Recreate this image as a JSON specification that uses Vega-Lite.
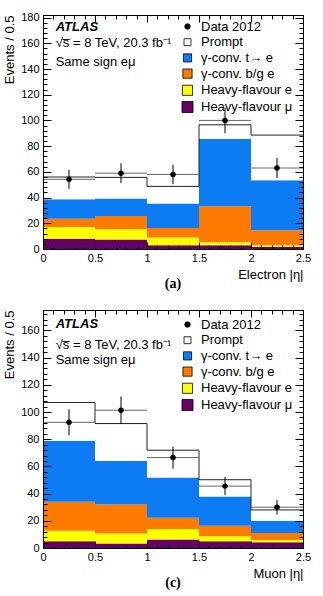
{
  "$schema": "https://vega.github.io/schema/vega-lite/v6.json",
  "background": "white",
  "padding": {"left": 3, "top": 11, "right": 5, "bottom": 0},
  "spacing": 18,
  "config": {"view": {"stroke": null}, "font": "Liberation Sans"},
  "datasets": {
    "electron": [
      {"lo": 0.0, "hi": 0.5, "component": "Heavy-flavour μ", "events": 8.0},
      {"lo": 0.0, "hi": 0.5, "component": "Heavy-flavour e", "events": 9.1},
      {"lo": 0.0, "hi": 0.5, "component": "γ-conv. b/g e", "events": 6.5},
      {"lo": 0.0, "hi": 0.5, "component": "γ-conv. t→ e", "events": 15.0},
      {"lo": 0.0, "hi": 0.5, "component": "Prompt", "events": 17.4},
      {"lo": 0.5, "hi": 1.0, "component": "Heavy-flavour μ", "events": 7.3},
      {"lo": 0.5, "hi": 1.0, "component": "Heavy-flavour e", "events": 8.0},
      {"lo": 0.5, "hi": 1.0, "component": "γ-conv. b/g e", "events": 10.3},
      {"lo": 0.5, "hi": 1.0, "component": "γ-conv. t→ e", "events": 13.6},
      {"lo": 0.5, "hi": 1.0, "component": "Prompt", "events": 16.5},
      {"lo": 1.0, "hi": 1.5, "component": "Heavy-flavour μ", "events": 2.9},
      {"lo": 1.0, "hi": 1.5, "component": "Heavy-flavour e", "events": 6.0},
      {"lo": 1.0, "hi": 1.5, "component": "γ-conv. b/g e", "events": 7.4},
      {"lo": 1.0, "hi": 1.5, "component": "γ-conv. t→ e", "events": 19.0},
      {"lo": 1.0, "hi": 1.5, "component": "Prompt", "events": 13.4},
      {"lo": 1.5, "hi": 2.0, "component": "Heavy-flavour μ", "events": 2.9},
      {"lo": 1.5, "hi": 2.0, "component": "Heavy-flavour e", "events": 2.3},
      {"lo": 1.5, "hi": 2.0, "component": "γ-conv. b/g e", "events": 28.0},
      {"lo": 1.5, "hi": 2.0, "component": "γ-conv. t→ e", "events": 52.6},
      {"lo": 1.5, "hi": 2.0, "component": "Prompt", "events": 10.8},
      {"lo": 2.0, "hi": 2.5, "component": "Heavy-flavour μ", "events": 1.6},
      {"lo": 2.0, "hi": 2.5, "component": "Heavy-flavour e", "events": 1.3},
      {"lo": 2.0, "hi": 2.5, "component": "γ-conv. b/g e", "events": 11.6},
      {"lo": 2.0, "hi": 2.5, "component": "γ-conv. t→ e", "events": 38.9},
      {"lo": 2.0, "hi": 2.5, "component": "Prompt", "events": 35.2}
    ],
    "electron_data": [
      {"lo": 0.0, "hi": 0.5, "eta": 0.25, "component": "Data 2012", "events": 54.2, "err": 7.4},
      {"lo": 0.5, "hi": 1.0, "eta": 0.75, "component": "Data 2012", "events": 59.0, "err": 7.7},
      {"lo": 1.0, "hi": 1.5, "eta": 1.25, "component": "Data 2012", "events": 58.0, "err": 7.6},
      {"lo": 1.5, "hi": 2.0, "eta": 1.75, "component": "Data 2012", "events": 100.0, "err": 10.0},
      {"lo": 2.0, "hi": 2.5, "eta": 2.25, "component": "Data 2012", "events": 63.0, "err": 7.9}
    ],
    "muon": [
      {"lo": 0.0, "hi": 0.5, "component": "Heavy-flavour μ", "events": 4.9},
      {"lo": 0.0, "hi": 0.5, "component": "Heavy-flavour e", "events": 7.7},
      {"lo": 0.0, "hi": 0.5, "component": "γ-conv. b/g e", "events": 21.4},
      {"lo": 0.0, "hi": 0.5, "component": "γ-conv. t→ e", "events": 44.8},
      {"lo": 0.0, "hi": 0.5, "component": "Prompt", "events": 28.2},
      {"lo": 0.5, "hi": 1.0, "component": "Heavy-flavour μ", "events": 3.4},
      {"lo": 0.5, "hi": 1.0, "component": "Heavy-flavour e", "events": 7.2},
      {"lo": 0.5, "hi": 1.0, "component": "γ-conv. b/g e", "events": 21.4},
      {"lo": 0.5, "hi": 1.0, "component": "γ-conv. t→ e", "events": 32.1},
      {"lo": 0.5, "hi": 1.0, "component": "Prompt", "events": 27.4},
      {"lo": 1.0, "hi": 1.5, "component": "Heavy-flavour μ", "events": 6.2},
      {"lo": 1.0, "hi": 1.5, "component": "Heavy-flavour e", "events": 7.8},
      {"lo": 1.0, "hi": 1.5, "component": "γ-conv. b/g e", "events": 8.2},
      {"lo": 1.0, "hi": 1.5, "component": "γ-conv. t→ e", "events": 29.7},
      {"lo": 1.0, "hi": 1.5, "component": "Prompt", "events": 20.0},
      {"lo": 1.5, "hi": 2.0, "component": "Heavy-flavour μ", "events": 4.9},
      {"lo": 1.5, "hi": 2.0, "component": "Heavy-flavour e", "events": 3.7},
      {"lo": 1.5, "hi": 2.0, "component": "γ-conv. b/g e", "events": 7.8},
      {"lo": 1.5, "hi": 2.0, "component": "γ-conv. t→ e", "events": 21.5},
      {"lo": 1.5, "hi": 2.0, "component": "Prompt", "events": 12.3},
      {"lo": 2.0, "hi": 2.5, "component": "Heavy-flavour μ", "events": 4.2},
      {"lo": 2.0, "hi": 2.5, "component": "Heavy-flavour e", "events": 1.7},
      {"lo": 2.0, "hi": 2.5, "component": "γ-conv. b/g e", "events": 5.1},
      {"lo": 2.0, "hi": 2.5, "component": "γ-conv. t→ e", "events": 9.1},
      {"lo": 2.0, "hi": 2.5, "component": "Prompt", "events": 7.9}
    ],
    "muon_data": [
      {"lo": 0.0, "hi": 0.5, "eta": 0.25, "component": "Data 2012", "events": 92.4, "err": 9.6},
      {"lo": 0.5, "hi": 1.0, "eta": 0.75, "component": "Data 2012", "events": 101.3, "err": 10.1},
      {"lo": 1.0, "hi": 1.5, "eta": 1.25, "component": "Data 2012", "events": 66.5, "err": 8.2},
      {"lo": 1.5, "hi": 2.0, "eta": 1.75, "component": "Data 2012", "events": 45.5, "err": 6.7},
      {"lo": 2.0, "hi": 2.5, "eta": 2.25, "component": "Data 2012", "events": 30.0, "err": 5.5}
    ]
  },
  "resolve": {
    "scale": {"x": "independent", "y": "independent", "color": "independent", "shape": "independent", "size": "independent"},
    "legend": {"color": "independent", "shape": "independent", "size": "independent"}
  },
  "vconcat": [
    {
      "width": 260,
      "height": 234,
      "title": {"text": "(a)", "orient": "bottom", "font": "Liberation Serif", "fontSize": 14, "fontWeight": "bold", "color": "black", "offset": -4},
      "resolve": {"axis": {"x": "independent", "y": "independent"}},
      "layer": [
        {
          "data": {"name": "electron"},
          "transform": [
            {"calculate": "indexof(['Heavy-flavour μ', 'Heavy-flavour e', 'γ-conv. b/g e', 'γ-conv. t→ e', 'Prompt'], datum.component)", "as": "stack_order"},
            {"stack": "events", "groupby": ["lo"], "sort": [{"field": "stack_order", "order": "ascending"}], "as": ["y0", "y1"]}
          ],
          "mark": {"type": "bar", "strokeWidth": 0},
          "encoding": {
            "x": {"field": "lo", "type": "quantitative", "scale": {"domain": [0, 2.5], "nice": false, "zero": false},
              "axis": {"orient": "bottom", "values": [0, 0.5, 1, 1.5, 2, 2.5], "format": "~g", "labelFlush": false, "title": "Electron |η|", "titleAnchor": "end", "titleFont": "Liberation Sans", "titleFontSize": 13, "titleFontWeight": "normal", "titleColor": "black", "titlePadding": 5, "labelFont": "Liberation Sans", "labelFontSize": 11, "labelColor": "black", "labelPadding": 10, "tickSize": -7, "tickColor": "black", "domain": true, "domainColor": "black", "grid": false, "zindex": 1}},
            "x2": {"field": "hi"},
            "y": {"field": "y0", "type": "quantitative", "scale": {"domain": [0, 182], "nice": false},
              "axis": {"orient": "left", "values": [0, 20, 40, 60, 80, 100, 120, 140, 160, 180], "title": "Events / 0.5", "titleAnchor": "end", "titleFont": "Liberation Sans", "titleFontSize": 13, "titleFontWeight": "normal", "titleColor": "black", "titlePadding": 4, "labelFont": "Liberation Sans", "labelFontSize": 11, "labelColor": "black", "labelPadding": 12, "tickSize": -8, "tickColor": "black", "domain": true, "domainColor": "black", "grid": false, "zindex": 1}},
            "y2": {"field": "y1"},
            "color": {"field": "component", "type": "nominal",
              "scale": {"domain": ["Data 2012", "Prompt", "γ-conv. t→ e", "γ-conv. b/g e", "Heavy-flavour e", "Heavy-flavour μ"], "range": ["#000000", "#ffffff", "#0d7cf2", "#ff7a00", "#ffff00", "#650066"]},
              "legend": {"orient": "none", "legendX": 138, "legendY": 5, "title": null, "padding": 0, "labelFont": "Liberation Sans", "labelFontSize": 13, "labelColor": "black", "labelOffset": 7, "rowPadding": 1.7, "symbolStrokeColor": "black", "symbolStrokeWidth": 0.8}}
          }
        },
        {
          "data": {"name": "electron"},
          "transform": [
            {"joinaggregate": [{"op": "sum", "field": "events", "as": "total"}], "groupby": ["lo"]},
            {"filter": "datum.component === 'Prompt'"}
          ],
          "mark": {"type": "rule", "color": "#222222", "strokeWidth": 1},
          "encoding": {
            "x": {"field": "lo", "type": "quantitative", "axis": {"orient": "top", "values": [0, 0.5, 1, 1.5, 2, 2.5], "labels": false, "title": null, "tickSize": -7, "tickColor": "black", "domain": true, "domainColor": "black", "grid": false, "zindex": 1}},
            "x2": {"field": "hi"},
            "y": {"field": "total", "type": "quantitative", "axis": {"orient": "right", "values": [0, 20, 40, 60, 80, 100, 120, 140, 160, 180], "labels": false, "title": null, "tickSize": -8, "tickColor": "black", "domain": true, "domainColor": "black", "grid": false, "zindex": 1}}
          }
        },
        {
          "data": {"name": "electron"},
          "transform": [
            {"joinaggregate": [{"op": "sum", "field": "events", "as": "total"}], "groupby": ["lo"]},
            {"filter": "datum.component === 'Prompt'"},
            {"window": [{"op": "lead", "field": "total", "as": "next_total"}], "sort": [{"field": "lo", "order": "ascending"}]},
            {"filter": "isValid(datum.next_total)"}
          ],
          "mark": {"type": "rule", "color": "#222222", "strokeWidth": 1},
          "encoding": {
            "x": {"field": "hi", "type": "quantitative", "axis": {"orient": "bottom", "values": [0, 0.1, 0.2, 0.3, 0.4, 0.5, 0.6, 0.7, 0.8, 0.9, 1, 1.1, 1.2, 1.3, 1.4, 1.5, 1.6, 1.7, 1.8, 1.9, 2, 2.1, 2.2, 2.3, 2.4, 2.5], "labels": false, "title": null, "tickSize": -4, "tickColor": "black", "domain": false, "grid": false, "zindex": 1}},
            "y": {"field": "total", "type": "quantitative", "axis": {"orient": "left", "values": [0, 4, 8, 12, 16, 20, 24, 28, 32, 36, 40, 44, 48, 52, 56, 60, 64, 68, 72, 76, 80, 84, 88, 92, 96, 100, 104, 108, 112, 116, 120, 124, 128, 132, 136, 140, 144, 148, 152, 156, 160, 164, 168, 172, 176, 180], "labels": false, "title": null, "tickSize": -4, "tickColor": "black", "domain": false, "grid": false, "zindex": 1}},
            "y2": {"field": "next_total"}
          }
        },
        {
          "data": {"name": "electron_data"},
          "mark": {"type": "rule", "color": "#666666", "strokeWidth": 1},
          "encoding": {
            "x": {"field": "lo", "type": "quantitative", "axis": {"orient": "top", "values": [0, 0.1, 0.2, 0.3, 0.4, 0.5, 0.6, 0.7, 0.8, 0.9, 1, 1.1, 1.2, 1.3, 1.4, 1.5, 1.6, 1.7, 1.8, 1.9, 2, 2.1, 2.2, 2.3, 2.4, 2.5], "labels": false, "title": null, "tickSize": -4, "tickColor": "black", "domain": false, "grid": false, "zindex": 1}},
            "x2": {"field": "hi"},
            "y": {"field": "events", "type": "quantitative", "axis": {"orient": "right", "values": [0, 4, 8, 12, 16, 20, 24, 28, 32, 36, 40, 44, 48, 52, 56, 60, 64, 68, 72, 76, 80, 84, 88, 92, 96, 100, 104, 108, 112, 116, 120, 124, 128, 132, 136, 140, 144, 148, 152, 156, 160, 164, 168, 172, 176, 180], "labels": false, "title": null, "tickSize": -4, "tickColor": "black", "domain": false, "grid": false, "zindex": 1}}
          }
        },
        {
          "data": {"name": "electron_data"},
          "mark": {"type": "errorbar", "color": "black", "thickness": 1},
          "encoding": {
            "x": {"field": "eta", "type": "quantitative", "axis": null},
            "y": {"field": "events", "type": "quantitative", "axis": null},
            "yError": {"field": "err"}
          }
        },
        {
          "data": {"name": "electron_data"},
          "mark": {"type": "point", "filled": true, "opacity": 1},
          "encoding": {
            "x": {"field": "eta", "type": "quantitative", "axis": null},
            "y": {"field": "events", "type": "quantitative", "axis": null},
            "color": {"field": "component", "type": "nominal",
              "legend": {"orient": "none", "legendX": 138, "legendY": 5, "title": null, "padding": 0, "labelFont": "Liberation Sans", "labelFontSize": 13, "labelColor": "black", "labelOffset": 7, "rowPadding": 1.7, "symbolStrokeColor": "black", "symbolStrokeWidth": 0.8}},
            "shape": {"field": "component", "type": "nominal",
              "scale": {"domain": ["Data 2012", "Prompt", "γ-conv. t→ e", "γ-conv. b/g e", "Heavy-flavour e", "Heavy-flavour μ"], "range": ["circle", "square", "square", "square", "square", "square"]},
              "legend": {"orient": "none", "legendX": 138, "legendY": 5, "title": null, "padding": 0, "labelFont": "Liberation Sans", "labelFontSize": 13, "labelColor": "black", "labelOffset": 7, "rowPadding": 1.7, "symbolStrokeColor": "black", "symbolStrokeWidth": 0.8}},
            "size": {"field": "component", "type": "nominal",
              "scale": {"domain": ["Data 2012", "Prompt", "γ-conv. t→ e", "γ-conv. b/g e", "Heavy-flavour e", "Heavy-flavour μ"], "range": [30, 121, 121, 121, 121, 121]},
              "legend": {"orient": "none", "legendX": 138, "legendY": 5, "title": null, "padding": 0, "labelFont": "Liberation Sans", "labelFontSize": 13, "labelColor": "black", "labelOffset": 7, "rowPadding": 1.7, "symbolStrokeColor": "black", "symbolStrokeWidth": 0.8}}
          }
        },
        {
          "data": {"values": [{"label": "ATLAS"}]},
          "mark": {"type": "text", "align": "left", "baseline": "middle", "font": "Liberation Sans", "fontSize": 13, "fontStyle": "italic", "fontWeight": "bold", "color": "black"},
          "encoding": {
            "x": {"datum": 0.122, "type": "quantitative", "axis": null},
            "y": {"datum": 173, "type": "quantitative", "axis": null},
            "text": {"field": "label"}
          }
        },
        {
          "data": {"values": [{"label": "√s̅ = 8 TeV, 20.3 fb⁻¹"}]},
          "mark": {"type": "text", "align": "left", "baseline": "middle", "font": "Liberation Sans", "fontSize": 13, "color": "black"},
          "encoding": {
            "x": {"datum": 0.122, "type": "quantitative", "axis": null},
            "y": {"datum": 160, "type": "quantitative", "axis": null},
            "text": {"field": "label"}
          }
        },
        {
          "data": {"values": [{"label": "Same sign eμ"}]},
          "mark": {"type": "text", "align": "left", "baseline": "middle", "font": "Liberation Sans", "fontSize": 13, "color": "black"},
          "encoding": {
            "x": {"datum": 0.122, "type": "quantitative", "axis": null},
            "y": {"datum": 145.8, "type": "quantitative", "axis": null},
            "text": {"field": "label"}
          }
        }
      ]
    },
    {
      "width": 260,
      "height": 238,
      "title": {"text": "(c)", "orient": "bottom", "font": "Liberation Serif", "fontSize": 14, "fontWeight": "bold", "color": "black", "offset": -4},
      "resolve": {"axis": {"x": "independent", "y": "independent"}},
      "layer": [
        {
          "data": {"name": "muon"},
          "transform": [
            {"calculate": "indexof(['Heavy-flavour μ', 'Heavy-flavour e', 'γ-conv. b/g e', 'γ-conv. t→ e', 'Prompt'], datum.component)", "as": "stack_order"},
            {"stack": "events", "groupby": ["lo"], "sort": [{"field": "stack_order", "order": "ascending"}], "as": ["y0", "y1"]}
          ],
          "mark": {"type": "bar", "strokeWidth": 0},
          "encoding": {
            "x": {"field": "lo", "type": "quantitative", "scale": {"domain": [0, 2.5], "nice": false, "zero": false},
              "axis": {"orient": "bottom", "values": [0, 0.5, 1, 1.5, 2, 2.5], "format": "~g", "labelFlush": false, "title": "Muon |η|", "titleAnchor": "end", "titleFont": "Liberation Sans", "titleFontSize": 13, "titleFontWeight": "normal", "titleColor": "black", "titlePadding": 5, "labelFont": "Liberation Sans", "labelFontSize": 11, "labelColor": "black", "labelPadding": 10, "tickSize": -7, "tickColor": "black", "domain": true, "domainColor": "black", "grid": false, "zindex": 1}},
            "x2": {"field": "hi"},
            "y": {"field": "y0", "type": "quantitative", "scale": {"domain": [0, 175], "nice": false},
              "axis": {"orient": "left", "values": [0, 20, 40, 60, 80, 100, 120, 140, 160], "title": "Events / 0.5", "titleAnchor": "end", "titleFont": "Liberation Sans", "titleFontSize": 13, "titleFontWeight": "normal", "titleColor": "black", "titlePadding": 4, "labelFont": "Liberation Sans", "labelFontSize": 11, "labelColor": "black", "labelPadding": 12, "tickSize": -8, "tickColor": "black", "domain": true, "domainColor": "black", "grid": false, "zindex": 1}},
            "y2": {"field": "y1"},
            "color": {"field": "component", "type": "nominal",
              "scale": {"domain": ["Data 2012", "Prompt", "γ-conv. t→ e", "γ-conv. b/g e", "Heavy-flavour e", "Heavy-flavour μ"], "range": ["#000000", "#ffffff", "#0d7cf2", "#ff7a00", "#ffff00", "#650066"]},
              "legend": {"orient": "none", "legendX": 138, "legendY": 8, "title": null, "padding": 0, "labelFont": "Liberation Sans", "labelFontSize": 13, "labelColor": "black", "labelOffset": 7, "rowPadding": 1.7, "symbolStrokeColor": "black", "symbolStrokeWidth": 0.8}}
          }
        },
        {
          "data": {"name": "muon"},
          "transform": [
            {"joinaggregate": [{"op": "sum", "field": "events", "as": "total"}], "groupby": ["lo"]},
            {"filter": "datum.component === 'Prompt'"}
          ],
          "mark": {"type": "rule", "color": "#222222", "strokeWidth": 1},
          "encoding": {
            "x": {"field": "lo", "type": "quantitative", "axis": {"orient": "top", "values": [0, 0.5, 1, 1.5, 2, 2.5], "labels": false, "title": null, "tickSize": -7, "tickColor": "black", "domain": true, "domainColor": "black", "grid": false, "zindex": 1}},
            "x2": {"field": "hi"},
            "y": {"field": "total", "type": "quantitative", "axis": {"orient": "right", "values": [0, 20, 40, 60, 80, 100, 120, 140, 160], "labels": false, "title": null, "tickSize": -8, "tickColor": "black", "domain": true, "domainColor": "black", "grid": false, "zindex": 1}}
          }
        },
        {
          "data": {"name": "muon"},
          "transform": [
            {"joinaggregate": [{"op": "sum", "field": "events", "as": "total"}], "groupby": ["lo"]},
            {"filter": "datum.component === 'Prompt'"},
            {"window": [{"op": "lead", "field": "total", "as": "next_total"}], "sort": [{"field": "lo", "order": "ascending"}]},
            {"filter": "isValid(datum.next_total)"}
          ],
          "mark": {"type": "rule", "color": "#222222", "strokeWidth": 1},
          "encoding": {
            "x": {"field": "hi", "type": "quantitative", "axis": {"orient": "bottom", "values": [0, 0.1, 0.2, 0.3, 0.4, 0.5, 0.6, 0.7, 0.8, 0.9, 1, 1.1, 1.2, 1.3, 1.4, 1.5, 1.6, 1.7, 1.8, 1.9, 2, 2.1, 2.2, 2.3, 2.4, 2.5], "labels": false, "title": null, "tickSize": -4, "tickColor": "black", "domain": false, "grid": false, "zindex": 1}},
            "y": {"field": "total", "type": "quantitative", "axis": {"orient": "left", "values": [0, 4, 8, 12, 16, 20, 24, 28, 32, 36, 40, 44, 48, 52, 56, 60, 64, 68, 72, 76, 80, 84, 88, 92, 96, 100, 104, 108, 112, 116, 120, 124, 128, 132, 136, 140, 144, 148, 152, 156, 160, 164, 168, 172], "labels": false, "title": null, "tickSize": -4, "tickColor": "black", "domain": false, "grid": false, "zindex": 1}},
            "y2": {"field": "next_total"}
          }
        },
        {
          "data": {"name": "muon_data"},
          "mark": {"type": "rule", "color": "#666666", "strokeWidth": 1},
          "encoding": {
            "x": {"field": "lo", "type": "quantitative", "axis": {"orient": "top", "values": [0, 0.1, 0.2, 0.3, 0.4, 0.5, 0.6, 0.7, 0.8, 0.9, 1, 1.1, 1.2, 1.3, 1.4, 1.5, 1.6, 1.7, 1.8, 1.9, 2, 2.1, 2.2, 2.3, 2.4, 2.5], "labels": false, "title": null, "tickSize": -4, "tickColor": "black", "domain": false, "grid": false, "zindex": 1}},
            "x2": {"field": "hi"},
            "y": {"field": "events", "type": "quantitative", "axis": {"orient": "right", "values": [0, 4, 8, 12, 16, 20, 24, 28, 32, 36, 40, 44, 48, 52, 56, 60, 64, 68, 72, 76, 80, 84, 88, 92, 96, 100, 104, 108, 112, 116, 120, 124, 128, 132, 136, 140, 144, 148, 152, 156, 160, 164, 168, 172], "labels": false, "title": null, "tickSize": -4, "tickColor": "black", "domain": false, "grid": false, "zindex": 1}}
          }
        },
        {
          "data": {"name": "muon_data"},
          "mark": {"type": "errorbar", "color": "black", "thickness": 1},
          "encoding": {
            "x": {"field": "eta", "type": "quantitative", "axis": null},
            "y": {"field": "events", "type": "quantitative", "axis": null},
            "yError": {"field": "err"}
          }
        },
        {
          "data": {"name": "muon_data"},
          "mark": {"type": "point", "filled": true, "opacity": 1},
          "encoding": {
            "x": {"field": "eta", "type": "quantitative", "axis": null},
            "y": {"field": "events", "type": "quantitative", "axis": null},
            "color": {"field": "component", "type": "nominal",
              "legend": {"orient": "none", "legendX": 138, "legendY": 8, "title": null, "padding": 0, "labelFont": "Liberation Sans", "labelFontSize": 13, "labelColor": "black", "labelOffset": 7, "rowPadding": 1.7, "symbolStrokeColor": "black", "symbolStrokeWidth": 0.8}},
            "shape": {"field": "component", "type": "nominal",
              "scale": {"domain": ["Data 2012", "Prompt", "γ-conv. t→ e", "γ-conv. b/g e", "Heavy-flavour e", "Heavy-flavour μ"], "range": ["circle", "square", "square", "square", "square", "square"]},
              "legend": {"orient": "none", "legendX": 138, "legendY": 8, "title": null, "padding": 0, "labelFont": "Liberation Sans", "labelFontSize": 13, "labelColor": "black", "labelOffset": 7, "rowPadding": 1.7, "symbolStrokeColor": "black", "symbolStrokeWidth": 0.8}},
            "size": {"field": "component", "type": "nominal",
              "scale": {"domain": ["Data 2012", "Prompt", "γ-conv. t→ e", "γ-conv. b/g e", "Heavy-flavour e", "Heavy-flavour μ"], "range": [30, 121, 121, 121, 121, 121]},
              "legend": {"orient": "none", "legendX": 138, "legendY": 8, "title": null, "padding": 0, "labelFont": "Liberation Sans", "labelFontSize": 13, "labelColor": "black", "labelOffset": 7, "rowPadding": 1.7, "symbolStrokeColor": "black", "symbolStrokeWidth": 0.8}}
          }
        },
        {
          "data": {"values": [{"label": "ATLAS"}]},
          "mark": {"type": "text", "align": "left", "baseline": "middle", "font": "Liberation Sans", "fontSize": 13, "fontStyle": "italic", "fontWeight": "bold", "color": "black"},
          "encoding": {
            "x": {"datum": 0.122, "type": "quantitative", "axis": null},
            "y": {"datum": 164.4, "type": "quantitative", "axis": null},
            "text": {"field": "label"}
          }
        },
        {
          "data": {"values": [{"label": "√s̅ = 8 TeV, 20.3 fb⁻¹"}]},
          "mark": {"type": "text", "align": "left", "baseline": "middle", "font": "Liberation Sans", "fontSize": 13, "color": "black"},
          "encoding": {
            "x": {"datum": 0.122, "type": "quantitative", "axis": null},
            "y": {"datum": 148.9, "type": "quantitative", "axis": null},
            "text": {"field": "label"}
          }
        },
        {
          "data": {"values": [{"label": "Same sign eμ"}]},
          "mark": {"type": "text", "align": "left", "baseline": "middle", "font": "Liberation Sans", "fontSize": 13, "color": "black"},
          "encoding": {
            "x": {"datum": 0.122, "type": "quantitative", "axis": null},
            "y": {"datum": 137.9, "type": "quantitative", "axis": null},
            "text": {"field": "label"}
          }
        }
      ]
    }
  ]
}
